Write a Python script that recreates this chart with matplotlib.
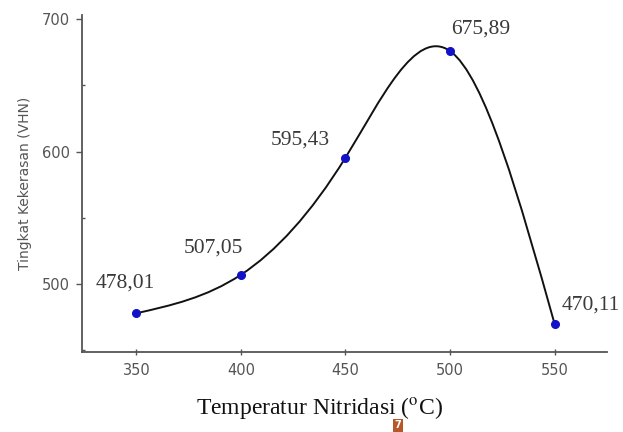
import numpy as np
import matplotlib
matplotlib.use("Agg")
import matplotlib.pyplot as plt
from matplotlib.path import Path
from matplotlib.patches import PathPatch
from matplotlib.ticker import MultipleLocator

# data
suhu = [350, 400, 450, 500, 550]
kekerasan = [478.01, 507.05, 595.43, 675.89, 470.11]
label_titik = ["478,01", "507,05", "595,43", "675,89", "470,11"]
# label offsets in pixels (dx, dy) from each point
offset_px = [(-11, 30), (-28, 27), (-45, 18), (31, 22), (36, 19)]

plt.rcParams['mathtext.fontset'] = 'stix'

fig = plt.figure(figsize=(6.23, 4.32), dpi=100)
ax = fig.add_axes([0.1316, 0.185, 0.8424, 0.780])

# smooth curve: natural cubic spline drawn as bezier segments
x = np.array(suhu, dtype=float)
y = np.array(kekerasan, dtype=float)
n = len(x)
h = np.diff(x)
A = np.zeros((n, n))
b = np.zeros(n)
A[0, 0] = 1
A[-1, -1] = 1
for i in range(1, n - 1):
    A[i, i - 1] = h[i - 1]
    A[i, i] = 2 * (h[i - 1] + h[i])
    A[i, i + 1] = h[i]
    b[i] = 6 * ((y[i + 1] - y[i]) / h[i] - (y[i] - y[i - 1]) / h[i - 1])
M = np.linalg.solve(A, b)

verts = [(x[0], y[0])]
codes = [Path.MOVETO]
for i in range(n - 1):
    d = (y[i + 1] - y[i]) / h[i]
    s0 = d - h[i] * (2 * M[i] + M[i + 1]) / 6
    s1 = d + h[i] * (M[i] + 2 * M[i + 1]) / 6
    verts += [(x[i] + h[i] / 3, y[i] + s0 * h[i] / 3),
              (x[i + 1] - h[i] / 3, y[i + 1] - s1 * h[i] / 3),
              (x[i + 1], y[i + 1])]
    codes += [Path.CURVE4] * 3
ax.add_patch(PathPatch(Path(verts, codes), facecolor='none',
                       edgecolor='#111111', lw=1.4, zorder=2))

ax.plot(suhu, kekerasan, linestyle='none', marker='o', markersize=5.5,
        color='#1212c8', zorder=3)

for xi, yi, lab, (dx, dy) in zip(suhu, kekerasan, label_titik, offset_px):
    ax.annotate(lab, (xi, yi), xytext=(dx * 0.72, dy * 0.72),
                textcoords='offset points', ha='center', va='center',
                fontsize=15.5, family='Liberation Serif', color='#3a3a3a',
                annotation_clip=False)

ax.set_xlim(324, 575)
ax.set_ylim(448.7, 703)
ax.set_xticks(suhu)
ax.set_yticks([500, 600, 700])
ax.yaxis.set_minor_locator(MultipleLocator(50))

for s in ['top', 'right']:
    ax.spines[s].set_visible(False)
for s in ['left', 'bottom']:
    ax.spines[s].set_color('#555555')
    ax.spines[s].set_linewidth(1.3)

ax.tick_params(axis='y', which='major', direction='out', length=4.5,
               width=1, color='#555555', labelsize=10.5, labelcolor='#555555', pad=4)
ax.tick_params(axis='y', which='minor', direction='in', length=2,
               width=1, color='#555555')
ax.tick_params(axis='x', which='major', direction='inout', length=4,
               width=1, color='#555555', labelsize=10.5, labelcolor='#555555', pad=6)

ax.set_ylabel('Tingkat Kekerasan (VHN)', fontsize=10, color='#555555', labelpad=7)
fig.text(0.512, 0.056, r'Temperatur Nitridasi ($^{\mathrm{o}}$C)', ha='center',
         va='center', fontsize=17, family='Liberation Serif', color='#111111')

# page number box at the bottom edge
fig.text(0.639, 0.004, '7', ha='center', va='bottom', fontsize=7,
         color='white', fontweight='bold',
         bbox=dict(boxstyle='square,pad=0.15', facecolor='#b8582a', edgecolor='none'))

fig.savefig('out.png', dpi=100)
